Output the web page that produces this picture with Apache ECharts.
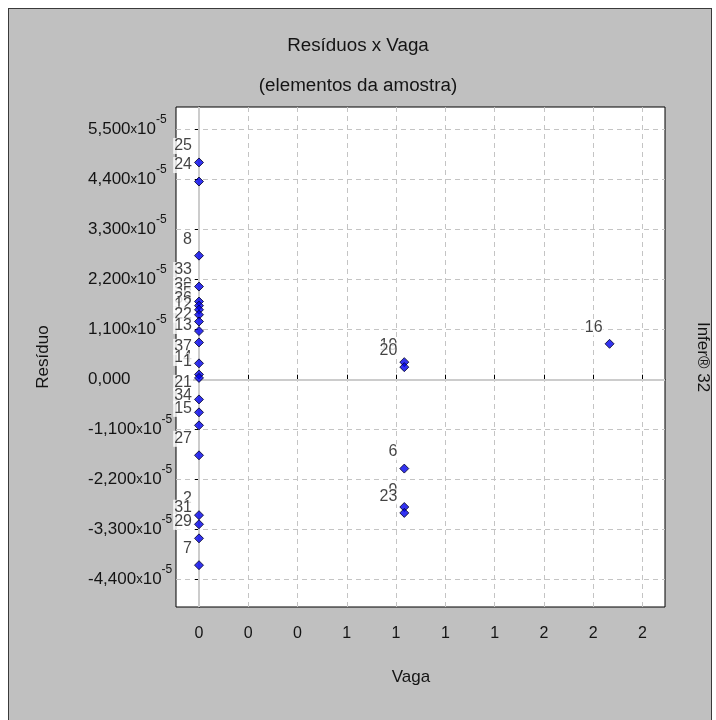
<!DOCTYPE html>
<html><head><meta charset="utf-8">
<script src="https://cdn.jsdelivr.net/npm/echarts@6/dist/echarts.min.js"></script>
<style>
html,body{margin:0;padding:0;background:#fff;width:716px;height:720px;overflow:hidden}
#panel{position:absolute;left:8px;top:8px;width:704px;height:720px;background:#c0c0c0;border:1px solid #3a3a3a;box-sizing:border-box}
#chart{position:absolute;left:0;top:0;width:716px;height:720px}
</style></head><body>
<div id="panel"></div><div id="chart"></div>
<script>
// ---- data (residuals) ----
const xValues   = [0,0,0,0,0,0,0,0,0,0,0,0,0,0,0,0,0,0,0,0,0,0, 1,1,1,1,1, 2];
const residuals = [4.78e-5,4.36e-5,2.73e-5,2.05e-5,1.72e-5,1.63e-5,1.54e-5,1.43e-5,1.28e-5,1.07e-5,0.82e-5,0.36e-5,0.116e-5,0.04e-5,-0.433e-5,-0.718e-5,-1.004e-5,-1.663e-5,-2.98e-5,-3.18e-5,-3.49e-5,-4.08e-5,
                   0.387e-5,0.277e-5,-1.955e-5,-2.80e-5,-2.93e-5,
                   0.79e-5];
const pointLabels = ['25','24','8','33','30','35','5','36','12','22','13','37','14','1','21','34','15','27','2','31','29','7',
                     '19','20','6','9','23',
                     '16'];
const xTicks = [0,0.24,0.48,0.72,0.96,1.2,1.44,1.68,1.92,2.16];
const xTickLabels = ['0','0','0','1','1','1','1','2','2','2'];
const yTicks = [-4.4e-5,-3.3e-5,-2.2e-5,-1.1e-5,0,1.1e-5,2.2e-5,3.3e-5,4.4e-5,5.5e-5];
const yTickMantissas = ['-4,400','-3,300','-2,200','-1,100','0,000','1,100','2,200','3,300','4,400','5,500'];
const yTickExponents = ['-5','-5','-5','-5','','-5','-5','-5','-5','-5'];
const titleText = 'Resíduos x Vaga';
const subtitleText = '(elementos da amostra)';
const xName = 'Vaga', yName = 'Resíduo', sideNote = 'Infer® 32';

const FONT = "'Liberation Sans', Arial, sans-serif";
const TXT = '#141414';
function nearestIndex(arr, v){let b=0,d=Infinity;arr.forEach((a,i)=>{const e=Math.abs(a-v);if(e<d){d=e;b=i;}});return b;}

const data = xValues.map((x,i)=>({value:[x,residuals[i]], name:pointLabels[i]}));

const chart = echarts.init(document.getElementById('chart'), null, {renderer:'canvas'});
chart.setOption({
  backgroundColor:'transparent',
  animation:false,
  textStyle:{fontFamily:FONT},
  title:[
    {text:titleText,left:'center',top:31,textStyle:{fontFamily:FONT,fontSize:18.8,fontWeight:'normal',color:TXT}},
    {text:subtitleText,left:'center',top:71,textStyle:{fontFamily:FONT,fontSize:18.8,fontWeight:'normal',color:TXT}}
  ],
  grid:{left:176,top:107,width:489,height:500,show:true,backgroundColor:'#fff',borderColor:'#000',borderWidth:1,containLabel:false},
  xAxis:{
    type:'value',min:-0.112,max:2.27,
    axisLine:{show:true,lineStyle:{color:'#000',width:1}},
    axisTick:{show:true,inside:true,length:5,customValues:xTicks,lineStyle:{color:'#000'}},
    axisLabel:{show:true,customValues:xTicks,margin:19,fontFamily:FONT,fontSize:16,color:TXT,
      formatter:v=>xTickLabels[nearestIndex(xTicks,v)]},
    splitLine:{show:true,lineStyle:{color:'#c4c4c4',type:[5,4],width:1}}
  },
  yAxis:{
    type:'value',min:-5e-5,max:6e-5,
    axisLine:{show:true,lineStyle:{color:'#000',width:1}},
    axisTick:{show:true,inside:false,length:4,customValues:yTicks,lineStyle:{color:'#000'}},
    axisLabel:{show:true,customValues:yTicks,margin:88,align:'left',fontFamily:FONT,color:TXT,
      formatter:v=>{const i=nearestIndex(yTicks,v);const e=yTickExponents[i];
        return e?`{n|${yTickMantissas[i]}}{x|x}{n|10}{s|${e}}`:`{n|${yTickMantissas[i]}}`;},
      rich:{
        n:{fontFamily:FONT,fontSize:17,lineHeight:32,color:TXT},
        x:{fontFamily:FONT,fontSize:13,lineHeight:32,color:TXT},
        s:{fontFamily:FONT,fontSize:12,lineHeight:13,verticalAlign:'top',color:TXT}
      }},
    splitLine:{show:true,lineStyle:{color:'#c4c4c4',type:[5,4],width:1}}
  },
  series:[{
    type:'scatter',
    data:data,
    symbol:'diamond',symbolSize:9,
    itemStyle:{color:'#0000ee',borderColor:'#000022',borderWidth:1},
    label:{show:true,formatter:p=>p.name,position:[-1,-11.5],align:'right',verticalAlign:'middle',
      fontFamily:FONT,fontSize:16,lineHeight:16,color:TXT,backgroundColor:'#fff',padding:[0,1,0,1]},
    markLine:{silent:true,symbol:'none',label:{show:false},animation:false,z:1,
      lineStyle:{color:'#cccccc',type:'solid',width:2},
      data:[{xAxis:0},{yAxis:0}]},
    z:3
  }],
  graphic:[
    {type:'text',x:43,y:357,rotation:Math.PI/2,style:{text:yName,font:"17px "+FONT,fill:TXT,align:'center',verticalAlign:'middle'}},
    {type:'text',x:411,y:677,style:{text:xName,font:"17px "+FONT,fill:TXT,align:'center',verticalAlign:'middle'}},
    {type:'text',x:703,y:357,rotation:-Math.PI/2,style:{text:sideNote,font:"17px "+FONT,fill:TXT,align:'center',verticalAlign:'middle'}}
  ]
});
</script>
</body></html>
